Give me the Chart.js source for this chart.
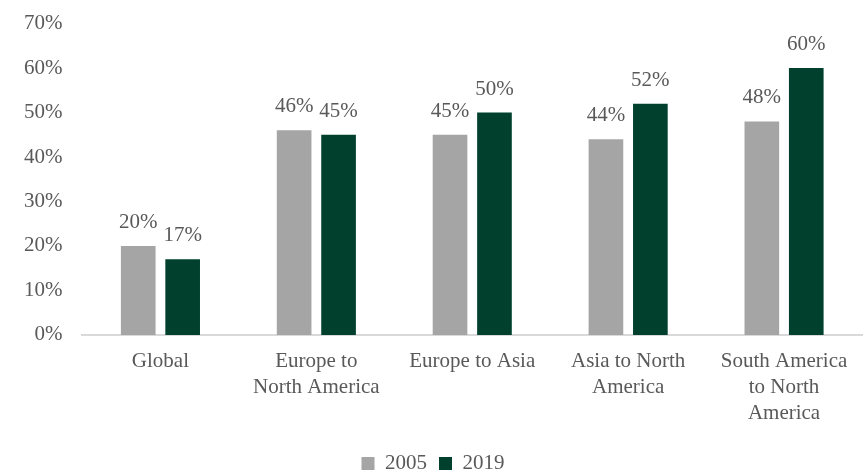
<!DOCTYPE html>
<html>
<head>
<meta charset="utf-8">
<script src="https://cdn.jsdelivr.net/npm/chart.js@4/dist/chart.umd.min.js"></script>
<style>
  html, body { margin: 0; padding: 0; background: #fff; overflow: hidden; }
  #barChart { display: block; margin-top: -9px; }
</style>
</head>
<body>
<canvas id="barChart" width="866" height="484"></canvas>
<script>
var routes = [['Global'], ['Europe to', 'North America'], ['Europe to Asia'], ['Asia to North', 'America'], ['South America', 'to North', 'America']];
var share2005 = [20, 46, 45, 44, 48];
var share2019 = [17, 45, 50, 52, 60];
var yearLabels = ['2005', '2019'];

var textColor = '#595959';
var serif = '"Liberation Serif", serif';

// write the value above every bar
var barValues = {
    id: 'barValues',
    afterDatasetsDraw: function (chart) {
        var ctx = chart.ctx;
        ctx.save();
        ctx.font = '21px ' + serif;
        ctx.fillStyle = textColor;
        ctx.textAlign = 'center';
        ctx.textBaseline = 'alphabetic';
        chart.data.datasets.forEach(function (ds, i) {
            chart.getDatasetMeta(i).data.forEach(function (bar, j) {
                ctx.fillText(ds.data[j] + '%', bar.x, bar.y - 18);
            });
        });
        ctx.restore();
    }
};

var ctx = document.getElementById('barChart').getContext('2d');
new Chart(ctx, {
    type: 'bar',
    data: {
        labels: routes,
        datasets: [
            {
                label: yearLabels[0],
                backgroundColor: '#A5A5A5',
                data: share2005,
                barPercentage: 0.78,
                categoryPercentage: 0.57
            },
            {
                label: yearLabels[1],
                backgroundColor: '#00402D',
                data: share2019,
                barPercentage: 0.78,
                categoryPercentage: 0.57
            }
        ]
    },
    options: {
        responsive: false,
        animation: false,
        layout: { padding: { left: 4, right: 4, top: 0, bottom: -9 } },
        plugins: {
            legend: {
                position: 'bottom',
                labels: {
                    color: textColor,
                    font: { family: serif, size: 21 },
                    boxWidth: 13,
                    boxHeight: 13,
                    padding: 12
                }
            },
            tooltip: { enabled: false }
        },
        scales: {
            x: {
                grid: { display: false, drawTicks: false },
                border: { color: '#D9D9D9', width: 2 },
                ticks: {
                    color: textColor,
                    font: { family: serif, size: 21, lineHeight: 1.24 },
                    padding: 14,
                    maxRotation: 0,
                    autoSkip: false
                }
            },
            y: {
                min: 0,
                max: 70,
                grid: { display: false, drawTicks: false },
                border: { display: false },
                ticks: {
                    stepSize: 10,
                    color: textColor,
                    font: { family: serif, size: 21 },
                    padding: 20,
                    callback: function (v) { return v + '%'; }
                }
            }
        }
    },
    plugins: [barValues]
});
</script>
</body>
</html>
